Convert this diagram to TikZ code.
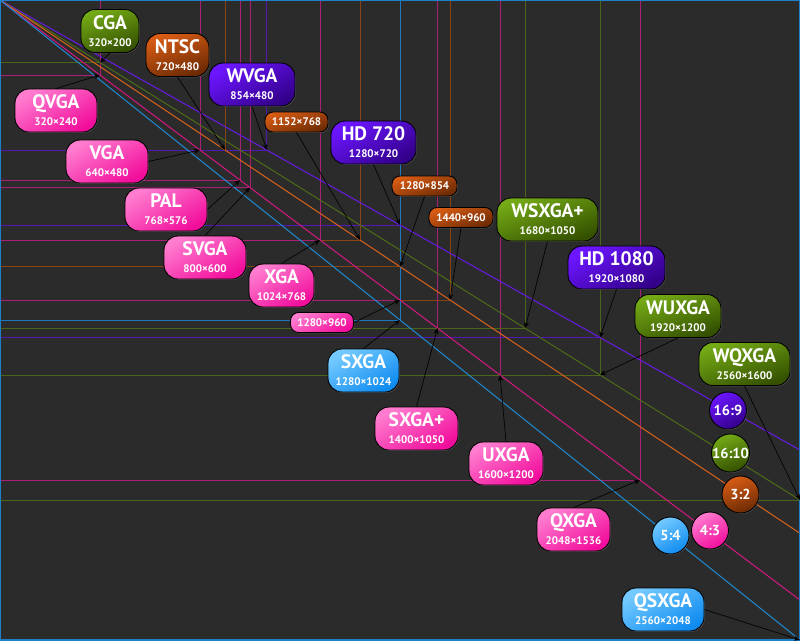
\documentclass[tikz,border=0pt]{standalone}
\usepackage{fontspec}
\setmainfont{PT Sans}
\usetikzlibrary{arrows.meta,shadows}

\definecolor{bgcol}{HTML}{2B2B2B}
\definecolor{framecol}{HTML}{1F80CA}
% fills
\definecolor{pinkhi}{HTML}{FF7CCF}
\definecolor{pinklo}{HTML}{F20E9C}
\definecolor{greenhi}{HTML}{74AA16}
\definecolor{greenlo}{HTML}{345000}
\definecolor{orangehi}{HTML}{D85C14}
\definecolor{orangelo}{HTML}{6C2A04}
\definecolor{purplehi}{HTML}{6C16FF}
\definecolor{purplelo}{HTML}{33008A}
\definecolor{bluehi}{HTML}{74CAFF}
\definecolor{bluelo}{HTML}{108CF0}
% rectangle lines
\definecolor{pinkR}{HTML}{A82076}
\definecolor{greenR}{HTML}{4A6418}
\definecolor{orangeR}{HTML}{864414}
\definecolor{purpleR}{HTML}{5616B4}
\definecolor{blueR}{HTML}{1E78C0}
% diagonals
\definecolor{pinkD}{HTML}{D41680}
\definecolor{greenD}{HTML}{4E6E16}
\definecolor{orangeD}{HTML}{D2601C}
\definecolor{purpleD}{HTML}{6A1AE6}
\definecolor{blueD}{HTML}{1E8CD6}

\newcommand\resline[1]{{\fontsize{11}{17}\selectfont #1}}

\tikzset{
  boxshadow/.style={drop shadow={opacity=0.5, shadow xshift=0.8pt, shadow yshift=-0.8pt}},
  res/.style={rounded corners=14pt, draw=black, line width=0.9pt, minimum height=43pt,
    inner xsep=4pt, inner ysep=0pt, align=center, text=white,
    font=\bfseries\fontsize{19.5}{17}\selectfont, boxshadow},
  small/.style={rounded corners=8pt, draw=black, line width=0.9pt, minimum height=20pt,
    minimum width=63pt, inner xsep=3pt, inner ysep=0pt, text=white,
    font=\bfseries\fontsize{11}{12}\selectfont, boxshadow},
  ratio/.style={circle, draw=black, line width=0.9pt, minimum size=37pt, inner sep=0pt,
    text=white, font=\bfseries\fontsize{14.5}{16}\selectfont, boxshadow},
  pinkfill/.style={top color=pinkhi, bottom color=pinklo, shading angle=30},
  greenfill/.style={top color=greenhi, bottom color=greenlo, shading angle=20},
  orangefill/.style={top color=orangehi, bottom color=orangelo, shading angle=20},
  purplefill/.style={top color=purplehi, bottom color=purplelo, shading angle=30},
  bluefill/.style={top color=bluehi, bottom color=bluelo, shading angle=30},
  rectline/.style={line width=1pt},
  diagline/.style={line width=1pt},
  pointer/.style={draw=black, line width=0.65pt, -{Stealth[length=6pt,width=5pt]}},
}

\begin{document}
\begin{tikzpicture}[x=1pt, y=-1pt]
  \useasboundingbox (0,0) rectangle (800,640);
  \fill[bgcol] (0,0) rectangle (800,640);

  % screen sizes, 2560 px = 800 pt
  \begin{scope}[x=0.3125pt, y=-0.3125pt]
    \foreach \w/\h/\c in {320/200/greenR, 320/240/pinkR, 640/480/pinkR, 720/480/orangeR,
        854/480/purpleR, 768/576/pinkR, 800/600/pinkR, 1152/768/orangeR, 1280/720/purpleR,
        1024/768/pinkR, 1280/854/orangeR, 1440/960/orangeR, 1280/960/pinkR,
        1280/1024/blueR, 1400/1050/pinkR, 1600/1200/pinkR, 1680/1050/greenR,
        1920/1080/purpleR, 1920/1200/greenR, 2560/1600/greenR, 2048/1536/pinkR,
        2560/2048/blueR}
    {
      \draw[rectline, draw=\c] (\w,0) |- (0,\h);
      \coordinate (r\w x\h) at (\w,\h);
    }
    % aspect ratios
    \foreach \h/\c in {1440/purpleD, 1600/greenD, 1706.67/orangeD, 1920/pinkD, 2048/blueD}
      \draw[diagline, draw=\c] (0,0) -- (2560,\h);
  \end{scope}

  \draw[framecol, line width=2pt] (0,0) rectangle (800,640);

  % labels
  \node[res, greenfill, minimum width=58pt] (cga) at (110,31) {CGA\\\resline{320×200}};
  \node[res, orangefill, minimum width=63pt] (ntsc) at (177.5,55) {NTSC\\\resline{720×480}};
  \node[res, purplefill, minimum width=86pt] (wvga) at (252,84.5) {WVGA\\\resline{854×480}};
  \node[res, pinkfill, minimum width=82pt] (qvga) at (56,110.5) {QVGA\\\resline{320×240}};
  \node[small, orangefill] (s1152) at (296.5,122) {1152×768};
  \node[res, purplefill, minimum width=85pt] (hd720) at (373.5,142.5) {HD 720\\\resline{1280×720}};
  \node[res, pinkfill, minimum width=82pt] (vga) at (107,161.5) {VGA\\\resline{640×480}};
  \node[small, orangefill, minimum width=65pt] (s1280a) at (424.5,186) {1280×854};
  \node[res, pinkfill, minimum width=82pt] (pal) at (166,209.5) {PAL\\\resline{768×576}};
  \node[small, orangefill, minimum width=64pt] (s1440) at (461,217.5) {1440×960};
  \node[res, greenfill, minimum width=101pt] (wsxgap) at (547.5,219.5) {WSXGA+\\\resline{1680×1050}};
  \node[res, pinkfill, minimum width=82pt] (svga) at (205,257.5) {SVGA\\\resline{800×600}};
  \node[res, purplefill, minimum width=97pt] (hd1080) at (616.5,267.5) {HD 1080\\\resline{1920×1080}};
  \node[res, pinkfill, minimum width=65pt] (xga) at (281.5,285.5) {XGA\\\resline{1024×768}};
  \node[small, pinkfill] (s1280b) at (322,322.5) {1280×960};
  \node[res, greenfill, minimum width=86pt] (wuxga) at (678,316) {WUXGA\\\resline{1920×1200}};
  \node[res, bluefill, minimum width=71pt] (sxga) at (363.5,370.5) {SXGA\\\resline{1280×1024}};
  \node[res, greenfill, minimum width=91pt] (wqxga) at (744.5,364) {WQXGA\\\resline{2560×1600}};
  \node[res, pinkfill, minimum width=83pt] (sxgap) at (416.5,428.5) {SXGA+\\\resline{1400×1050}};
  \node[res, pinkfill, minimum width=74pt] (uxga) at (506,463.5) {UXGA\\\resline{1600×1200}};
  \node[res, pinkfill, minimum width=73pt] (qxga) at (573.5,529.5) {QXGA\\\resline{2048×1536}};
  \node[res, bluefill, minimum width=82pt] (qsxga) at (663,609.5) {QSXGA\\\resline{2560×2048}};

  \node[ratio, purplefill] (r169) at (728,410.5) {16:9};
  \node[ratio, greenfill] (r1610) at (730.5,453) {16:10};
  \node[ratio, orangefill] (r32) at (740.5,494.5) {3:2};
  \node[ratio, pinkfill] (r43) at (710,530.5) {4:3};
  \node[ratio, bluefill] (r54) at (670.5,535.5) {5:4};

  % pointers to the corners
  \draw[pointer] (cga.south) -- (r320x200);
  \draw[pointer] (qvga.north) -- (r320x240);
  \draw[pointer] (ntsc.south) -- (r720x480);
  \draw[pointer] (wvga.south) -- (r854x480);
  \draw[pointer] (vga.east) -- (r640x480);
  \draw[pointer] (s1152.south) -- (r1152x768);
  \draw[pointer] (hd720.south) -- (r1280x720);
  \draw[pointer] (pal.east) -- (r768x576);
  \draw[pointer] (svga.north) -- (r800x600);
  \draw[pointer] (xga.north) -- (r1024x768);
  \draw[pointer] (s1280a.south) -- (r1280x854);
  \draw[pointer] (s1440.south) -- (r1440x960);
  \draw[pointer] (s1280b.east) -- (r1280x960);
  \draw[pointer] (sxga.north) -- (r1280x1024);
  \draw[pointer] (sxgap.north) -- (r1400x1050);
  \draw[pointer] (uxga.north) -- (r1600x1200);
  \draw[pointer] (wsxgap.south) -- (r1680x1050);
  \draw[pointer] (hd1080.south) -- (r1920x1080);
  \draw[pointer] (wuxga.south) -- (r1920x1200);
  \draw[pointer] (wqxga.south) -- (r2560x1600);
  \draw[pointer] (qxga.north) -- (r2048x1536);
  \draw[pointer] (qsxga.east) -- (r2560x2048);
\end{tikzpicture}
\end{document}
